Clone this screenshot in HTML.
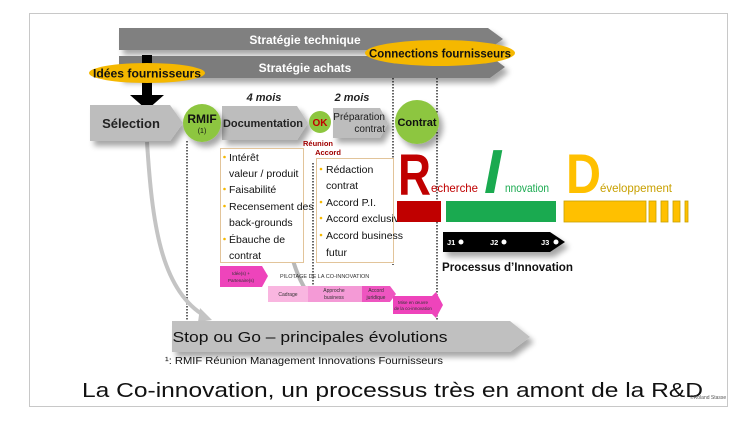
<!DOCTYPE html>
<html><head><meta charset="utf-8"><style>html,body{margin:0;padding:0;background:#fff}svg{display:block}text{font-family:"Liberation Sans",sans-serif}</style></head>
<body>
<svg width="754" height="424" viewBox="0 0 754 424" xmlns="http://www.w3.org/2000/svg">
<defs>
<filter id="sh" x="-20%" y="-30%" width="150%" height="180%"><feGaussianBlur in="SourceAlpha" stdDeviation="3"/><feOffset dx="4" dy="5"/><feComponentTransfer><feFuncA type="linear" slope="0.35"/></feComponentTransfer><feMerge><feMergeNode/><feMergeNode in="SourceGraphic"/></feMerge></filter>
</defs>
<rect x="29.5" y="13.5" width="698" height="393" fill="#fff" stroke="#c8c8c8"/>
<!-- top bars -->
<polygon points="119,28 488,28 503,39 488,50 119,50" fill="#808080" filter="url(#sh)"/>
<text x="305" y="44" font-size="12" font-weight="bold" fill="#fff" text-anchor="middle">Stratégie technique</text>
<polygon points="119,56 490,56 505,67 490,78 119,78" fill="#7c7c7c" filter="url(#sh)"/>
<text x="305" y="72" font-size="12" font-weight="bold" fill="#fff" text-anchor="middle">Stratégie achats</text>
<ellipse cx="440" cy="53" rx="75" ry="13" fill="#f5b800"/>
<text x="440" y="57.5" font-size="12" font-weight="bold" fill="#111" text-anchor="middle" textLength="142" lengthAdjust="spacingAndGlyphs">Connections fournisseurs</text>
<!-- black arrow -->
<polygon points="142,55 152,55 152,95 164,95 147,110 130,95 142,95" fill="#000"/>
<ellipse cx="147" cy="73" rx="58" ry="10" fill="#f5b800"/>
<text x="147" y="77.5" font-size="12" font-weight="bold" fill="#111" text-anchor="middle" textLength="108" lengthAdjust="spacingAndGlyphs">Idées fournisseurs</text>
<!-- dotted lines -->
<g stroke="#000" stroke-width="1.2" stroke-dasharray="1.5,1.5">
<line x1="187" y1="141" x2="187" y2="330"/>
<line x1="393" y1="78" x2="393" y2="265"/>
<line x1="437" y1="78" x2="437" y2="330"/>
<line x1="313" y1="163" x2="313" y2="300"/>
</g>
<!-- gray curves -->
<path d="M147,142 C152,220 160,290 205,316" fill="none" stroke="#c4c4c4" stroke-width="4"/>
<polygon points="200,308 212,320 198,322" fill="#c4c4c4"/>
<path d="M277,150 C280,230 295,280 312,298" fill="none" stroke="#b8b8b8" stroke-width="4"/>
<!-- selection -->
<polygon points="90,105 170,105 183,123 170,141 90,141" fill="#bdbdbd" filter="url(#sh)"/>
<text x="131" y="128" font-size="13" font-weight="bold" fill="#222" text-anchor="middle">Sélection</text>
<polygon points="222,106 297,106 308,123 297,140 222,140" fill="#bdbdbd" filter="url(#sh)"/>
<text x="263" y="127" font-size="11" font-weight="bold" fill="#222" text-anchor="middle">Documentation</text>
<polygon points="333,108 380,108 388,123 380,138 333,138" fill="#bdbdbd" filter="url(#sh)"/>
<text x="385" y="120" font-size="10" fill="#222" text-anchor="end">Préparation</text>
<text x="385" y="132" font-size="10" fill="#222" text-anchor="end">contrat</text>
<text x="264" y="101" font-size="11" font-weight="bold" font-style="italic" fill="#222" text-anchor="middle">4 mois</text>
<text x="352" y="101" font-size="11" font-weight="bold" font-style="italic" fill="#222" text-anchor="middle">2 mois</text>
<circle cx="202" cy="123" r="19" fill="#8dc63f" filter="url(#sh)"/>
<text x="202" y="123" font-size="12" font-weight="bold" fill="#111" text-anchor="middle">RMIF</text>
<text x="202" y="133" font-size="7" fill="#111" text-anchor="middle">(1)</text>
<circle cx="320" cy="122" r="11" fill="#8dc63f"/>
<text x="320" y="126" font-size="10" font-weight="bold" fill="#c00000" text-anchor="middle">OK</text>
<circle cx="417" cy="122" r="22" fill="#8dc63f" filter="url(#sh)"/>
<text x="417" y="126" font-size="11" font-weight="bold" fill="#111" text-anchor="middle">Contrat</text>
<text x="318" y="146" font-size="7.5" font-weight="bold" fill="#a00000" text-anchor="middle">Réunion</text>
<text x="328" y="155" font-size="7.5" font-weight="bold" fill="#a00000" text-anchor="middle">Accord</text>
<!-- boxes -->
<rect x="220.5" y="148.5" width="83" height="114" fill="#fff" stroke="#e2c49a"/>
<g font-size="10.5" fill="#111">
<text x="229" y="161">Intérêt</text><text x="229" y="177">valeur / produit</text>
<text x="229" y="193">Faisabilité</text><text x="229" y="210">Recensement des</text>
<text x="229" y="226">back-grounds</text><text x="229" y="243">Ébauche de</text><text x="229" y="259">contrat</text>
</g>
<g fill="#f5b800"><circle cx="224.5" cy="157" r="1.3"/><circle cx="224.5" cy="189" r="1.3"/><circle cx="224.5" cy="206" r="1.3"/><circle cx="224.5" cy="239" r="1.3"/></g>
<rect x="316.5" y="158.5" width="77" height="104" fill="#fff" stroke="#e2c49a"/>
<g font-size="10.5" fill="#111">
<text x="326" y="173">Rédaction</text><text x="326" y="189">contrat</text>
<text x="326" y="206">Accord P.I.</text><text x="326" y="222">Accord exclusivité</text>
<text x="326" y="239">Accord business</text><text x="326" y="256">futur</text>
</g>
<g fill="#f5b800"><circle cx="321" cy="169" r="1.3"/><circle cx="321" cy="202" r="1.3"/><circle cx="321" cy="218" r="1.3"/><circle cx="321" cy="235" r="1.3"/></g>
<!-- RID -->
<text x="398" y="195" font-size="58" font-weight="bold" fill="#c00000" textLength="33" lengthAdjust="spacingAndGlyphs">R</text>
<text x="431" y="192" font-size="12" fill="#c00000" textLength="47" lengthAdjust="spacingAndGlyphs">echerche</text>
<text x="484" y="193" font-size="62" font-weight="bold" font-style="italic" fill="#1aaa50">I</text>
<text x="505" y="192" font-size="12" fill="#1aaa50" textLength="44" lengthAdjust="spacingAndGlyphs">nnovation</text>
<text x="566" y="193" font-size="56" font-weight="bold" fill="#ffc000" textLength="35" lengthAdjust="spacingAndGlyphs">D</text>
<text x="600" y="192" font-size="12" fill="#c8a000" textLength="72" lengthAdjust="spacingAndGlyphs">éveloppement</text>
<rect x="397" y="201" width="44" height="21" fill="#c00000"/>
<rect x="446" y="201" width="110" height="21" fill="#1aaa50"/>
<g fill="#ffc000" stroke="#c8a000" stroke-width="0.8"><rect x="564" y="201" width="82" height="21"/><rect x="649" y="201" width="7" height="21"/><rect x="661" y="201" width="7" height="21"/><rect x="673" y="201" width="7" height="21"/><rect x="685" y="201" width="3" height="21"/></g>
<polygon points="443,232 550,232 565,242 550,252 443,252" fill="#000" filter="url(#sh)"/>
<g font-size="7.5" font-weight="bold" fill="#fff"><text x="447" y="245">J1</text><text x="490" y="245">J2</text><text x="541" y="245">J3</text></g>
<g fill="#fff"><circle cx="461" cy="242" r="2.5"/><circle cx="504" cy="242" r="2.5"/><circle cx="556" cy="242" r="2.5"/></g>
<text x="442" y="271" font-size="12" font-weight="bold" fill="#111" textLength="131" lengthAdjust="spacingAndGlyphs">Processus d’Innovation</text>
<!-- pink -->
<polygon points="220,266 262,266 268,276 262,287 220,287" fill="#ee44bb"/>
<text x="241" y="275" font-size="4.5" fill="#333" text-anchor="middle">Idée(s) +</text>
<text x="241" y="282" font-size="4.5" fill="#333" text-anchor="middle">Partenaire(s)</text>
<text x="280" y="278" font-size="5.5" fill="#333">PILOTAGE DE LA CO-INNOVATION</text>
<rect x="268" y="286" width="40" height="16" fill="#f9b6e0"/>
<rect x="308" y="286" width="54" height="16" fill="#f49ad6"/>
<polygon points="362,286 390,286 396,294 390,302 362,302" fill="#ee55c0"/>
<text x="288" y="296" font-size="5" fill="#333" text-anchor="middle">Cadrage</text>
<text x="334" y="292" font-size="5" fill="#333" text-anchor="middle">Approche</text>
<text x="334" y="299" font-size="5" fill="#333" text-anchor="middle">business</text>
<text x="376" y="292" font-size="5" fill="#333" text-anchor="middle">Accord</text>
<text x="376" y="299" font-size="5" fill="#333" text-anchor="middle">juridique</text>
<polygon points="393,296 432,296 436,292 443,305 436,318 432,314 393,314" fill="#ee44bb"/>
<text x="413" y="304" font-size="4.5" fill="#333" text-anchor="middle">Mise en œuvre</text>
<text x="413" y="310" font-size="4.5" fill="#333" text-anchor="middle">de la co-innovation</text>
<!-- stop ou go -->
<polygon points="172,321 510,321 530,337 510,352 172,352" fill="#c0c0c0" filter="url(#sh)"/>
<text x="310" y="342" font-size="15" fill="#111" text-anchor="middle" textLength="275" lengthAdjust="spacingAndGlyphs">Stop ou Go – principales évolutions</text>
<text x="165" y="364" font-size="10" fill="#111" textLength="278" lengthAdjust="spacingAndGlyphs">¹: RMIF   Réunion Management Innovations Fournisseurs</text>
<text x="82" y="397" font-size="20" fill="#111" textLength="621" lengthAdjust="spacingAndGlyphs">La Co-innovation, un processus très en amont de la R&amp;D</text>
<text x="690" y="399" font-size="5" fill="#555">©Roland Stasse</text>
</svg>
</body></html>
